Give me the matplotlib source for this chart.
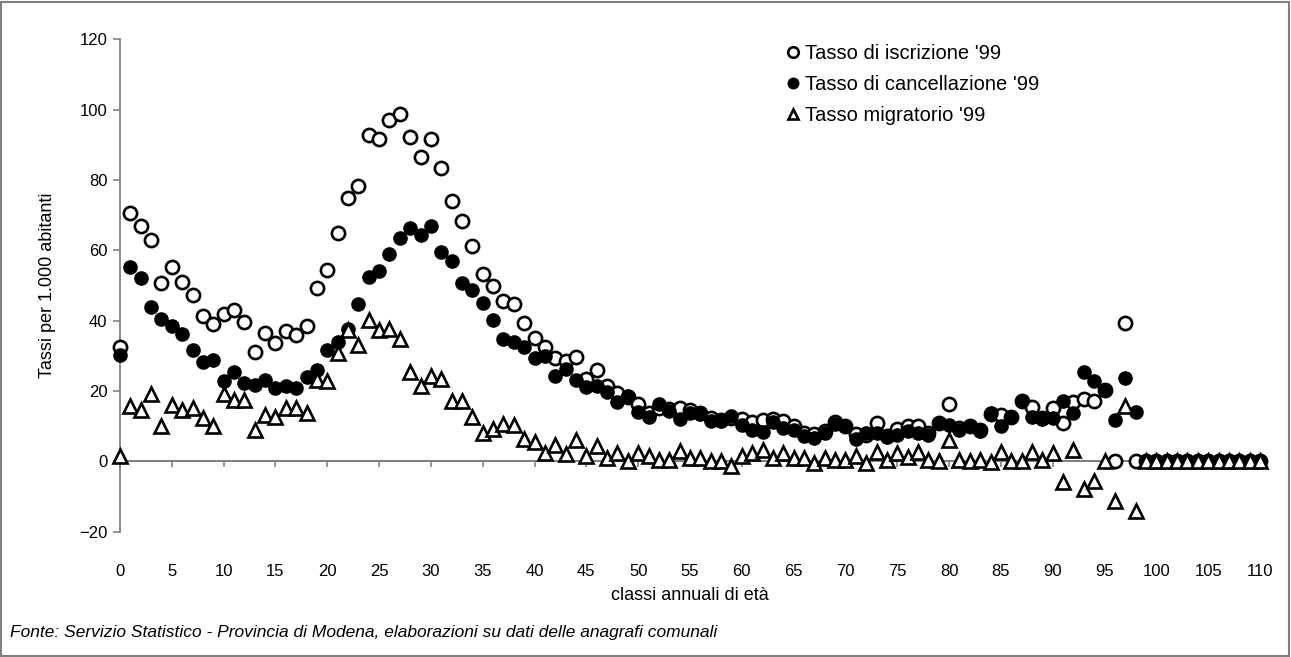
import matplotlib
matplotlib.use('Agg')
import matplotlib.pyplot as plt
from matplotlib.patches import Rectangle
import numpy as np

plt.rcParams['font.family'] = ['Liberation Sans', 'DejaVu Sans']

# Data: single-year age classes 0..110
ages = np.arange(0, 111)

iscrizione = [
    32.5, 70.7, 66.8, 63.0, 50.7, 55.2, 50.9, 47.2, 41.2, 39.1,
    42.0, 43.1, 39.6, 31.0, 36.5, 33.6, 36.9, 36.0, 38.4, 49.4,
    54.5, 64.9, 75.0, 78.4, 92.9, 91.5, 97.0, 98.7, 92.1, 86.4,
    91.5, 83.5, 74.0, 68.3, 61.3, 53.2, 49.8, 45.6, 44.7, 39.2,
    35.0, 32.6, 29.3, 28.4, 29.7, 23.3, 25.8, 21.3, 19.4, 18.2,
    16.3, 13.8, 15.2, 14.8, 15.2, 14.6, 13.8, 12.2, 11.8, 12.4,
    12.0, 11.1, 11.6, 12.0, 11.5, 9.9, 8.0, 7.6, 8.6, 11.1,
    9.9, 7.6, 7.5, 10.8, 7.2, 9.1, 10.1, 10.1, 8.0, 11.0,
    16.2, 9.4, 9.9, 8.9, 13.4, 13.2, 12.5, 17.0, 15.3, 12.4,
    15.1, 11.0, 16.7, 17.6, 17.0, 20.3, 0.0, 39.4, 0.0, 0.0,
    0, 0, 0, 0, 0, 0, 0, 0, 0, 0, 0,
]

cancellazione = [
    30.3, 55.2, 52.1, 43.8, 40.4, 38.5, 36.2, 31.5, 28.2, 28.9,
    22.7, 25.4, 22.1, 21.8, 23.2, 20.8, 21.5, 20.8, 23.9, 26.0,
    31.5, 33.8, 37.6, 44.7, 52.5, 54.1, 58.9, 63.4, 66.2, 64.3,
    66.9, 59.6, 56.8, 50.8, 48.7, 44.9, 40.2, 34.7, 34.0, 32.6,
    29.3, 30.0, 24.1, 26.1, 23.2, 21.2, 21.3, 19.8, 16.8, 18.4,
    13.9, 12.7, 16.3, 14.2, 12.0, 13.7, 13.3, 11.5, 11.3, 12.9,
    10.4, 8.8, 8.2, 11.1, 9.4, 9.0, 7.2, 6.6, 8.0, 10.7,
    9.9, 6.4, 8.0, 8.0, 7.0, 7.5, 8.5, 8.0, 7.5, 11.0,
    10.4, 9.0, 9.9, 8.5, 13.7, 10.1, 12.5, 17.0, 12.5, 12.0,
    12.3, 17.0, 13.7, 25.5, 22.7, 20.3, 11.6, 23.6, 14.0, 0.0,
    0, 0, 0, 0, 0, 0, 0, 0, 0, 0, 0,
]

migratorio = [
    1.5, 15.6, 14.5, 19.2, 9.9, 16.1, 14.7, 15.2, 12.3, 9.9,
    19.2, 17.5, 17.3, 9.0, 13.0, 12.5, 15.2, 15.0, 13.7, 23.2,
    22.7, 30.8, 37.4, 33.0, 40.2, 37.4, 37.6, 34.7, 25.5, 21.4,
    24.3, 23.3, 17.0, 17.2, 12.5, 8.0, 9.1, 10.7, 10.4, 6.3,
    5.4, 2.3, 4.7, 2.1, 6.1, 1.6, 4.2, 0.9, 2.2, 0.0,
    2.3, 1.4, 0.4, 0.4, 2.8, 0.9, 0.9, 0.0, 0.0, -1.5,
    1.4, 2.3, 3.3, 0.9, 2.3, 0.9, 0.9, -0.5, 0.9, 0.4,
    0.4, 1.4, -0.5, 2.6, 0.2, 2.3, 1.1, 2.5, 0.4, 0.0,
    6.1, 0.4, 0.0, 0.4, -0.3, 2.6, 0.0, 0.0, 2.5, 0.4,
    2.3, -6.0, 3.1, -7.9, -5.7, 0.0, -11.4, 15.6, -14.3, 0.0,
    0, 0, 0, 0, 0, 0, 0, 0, 0, 0, 0,
]

W, H = 1291, 657
fig = plt.figure(figsize=(W / 100, H / 100), dpi=100)
ax = fig.add_axes([120 / W, 1 - 531.5 / H, 1140 / W, 492.2 / H])

gray = '#808080'

# zero line carrying the category ticks
ax.axhline(0, color=gray, lw=1.3, zorder=1)

ax.plot(ages, iscrizione, 'o', ms=9.5, mfc='white', mec='black', mew=1.9,
        label="Tasso di iscrizione '99", clip_on=False, zorder=3)
ax.plot(ages, cancellazione, 'o', ms=9.5, mfc='black', mec='black', mew=1.0,
        label="Tasso di cancellazione '99", clip_on=False, zorder=4)
ax.plot(ages, migratorio, '^', ms=9.5, mfc='white', mec='black', mew=1.9,
        label="Tasso migratorio '99", clip_on=False, zorder=5)

ax.set_xlim(0, 110)
ax.set_ylim(-20, 120)
ax.set_yticks(np.arange(-20, 121, 20))
ax.set_xticks(np.arange(0, 111, 5))

for s in ['top', 'right']:
    ax.spines[s].set_visible(False)
ax.spines['left'].set_color(gray)
ax.spines['left'].set_linewidth(1.3)
ax.spines['bottom'].set_position(('data', 0))
ax.spines['bottom'].set_color(gray)
ax.spines['bottom'].set_linewidth(1.3)

ax.tick_params(axis='y', direction='out', length=5, width=1.2, color=gray,
               labelsize=12, pad=4)
ax.tick_params(axis='x', direction='out', length=4, width=1.2, color=gray,
               labelsize=12, pad=70)

fig.text(48 / W, 1 - 285 / H, 'Tassi per 1.000 abitanti', rotation=90,
         ha='center', va='center', fontsize=13)
fig.text(690 / W, 1 - 596 / H, 'classi annuali di età', ha='center',
         va='center', fontsize=13)
fig.text(10 / W, 1 - 633 / H,
         'Fonte: Servizio Statistico - Provincia di Modena, elaborazioni su dati delle anagrafi comunali',
         ha='left', va='center', fontsize=12.5, style='italic')

leg = ax.legend(loc='upper left', bbox_to_anchor=(0.585, 0.99), frameon=False,
                fontsize=14.5, handlelength=0.6, handletextpad=0.3,
                labelspacing=0.6, borderaxespad=0, borderpad=0,
                markerscale=0.8)

# outer frame of the chart
fig.patches.append(Rectangle((1 / W, 1 / H), 1 - 3 / W, 1 - 3 / H,
                             transform=fig.transFigure, fill=False,
                             edgecolor=gray, lw=1.5))

fig.savefig('out.png', dpi=100)
